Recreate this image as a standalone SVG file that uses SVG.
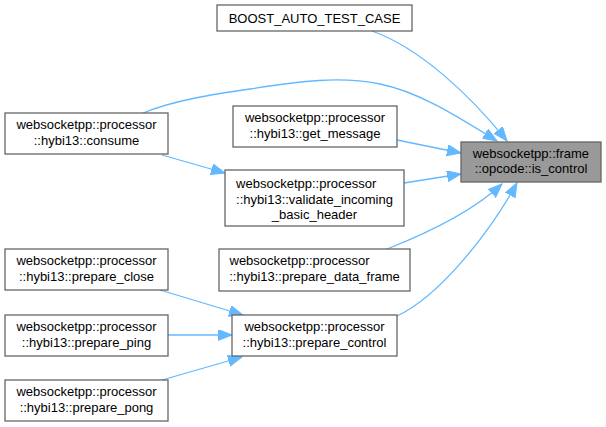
<svg xmlns="http://www.w3.org/2000/svg" width="606" height="427" viewBox="0 0 606 427">
<style>
.box{fill:#ffffff;stroke:#666666;stroke-width:1.3}
.root{fill:#999999;stroke:#666666;stroke-width:1.3}
text{font-family:"Liberation Sans",Arial,Helvetica,sans-serif;font-size:13px;fill:#000000}
.m{text-anchor:middle}
.s{text-anchor:start}
.e{fill:none;stroke:#63b8ff;stroke-width:1.3}
</style>
<defs>
<marker id="ah" markerUnits="userSpaceOnUse" markerWidth="15" markerHeight="12" refX="14" refY="5.5" orient="auto">
<path d="M0,0 L14,5.5 L0,11 z" fill="#63b8ff" stroke="#63b8ff" stroke-width="1"/>
</marker>
</defs>
<g id="edges">
<path class="e" marker-end="url(#ah)" d="M372,31 C420,48 470,95 507,141"/>
<path class="e" marker-end="url(#ah)" d="M143,113 C175,100 215,94 250,89 C300,81 340,76 380,84 C420,92 460,118 497,141"/>
<path class="e" marker-end="url(#ah)" d="M397,140 L461,153"/>
<path class="e" marker-end="url(#ah)" d="M404,183 L461,174"/>
<path class="e" marker-end="url(#ah)" d="M387,249 C420,236 470,214 502,184"/>
<path class="e" marker-end="url(#ah)" d="M397,316 C440,296 490,232 517,183"/>
<path class="e" marker-end="url(#ah)" d="M162,155 L225,173"/>
<path class="e" marker-end="url(#ah)" d="M160,290 L243,315"/>
<path class="e" marker-end="url(#ah)" d="M168,335 L232,335"/>
<path class="e" marker-end="url(#ah)" d="M162,380 L242,357"/>
</g>
<g id="node_root">
<rect class="root" x="461" y="142" width="140" height="40"/>
<text class="s" x="472.7" y="158">websocketpp::frame</text>
<text class="m" x="531" y="173">::opcode::is_control</text>
</g>
<g id="node_boost">
<rect class="box" x="217" y="5" width="195" height="26"/>
<text class="m" x="314.5" y="23">BOOST_AUTO_TEST_CASE</text>
</g>
<g id="node_consume">
<rect class="box" x="5" y="113" width="163" height="41"/>
<text class="s" x="16.4" y="129">websocketpp::processor</text>
<text class="m" x="86.5" y="145">::hybi13::consume</text>
</g>
<g id="node_get_message">
<rect class="box" x="233" y="106" width="164" height="41"/>
<text class="s" x="244.9" y="122">websocketpp::processor</text>
<text class="m" x="315" y="138">::hybi13::get_message</text>
</g>
<g id="node_validate">
<rect class="box" x="225" y="170" width="179" height="56"/>
<text class="s" x="236.1" y="188">websocketpp::processor</text>
<text class="s" x="236.1" y="204">::hybi13::validate_incoming</text>
<text class="m" x="314.5" y="219">_basic_header</text>
</g>
<g id="node_data_frame">
<rect class="box" x="219" y="249" width="191" height="42"/>
<text class="s" x="229.5" y="265">websocketpp::processor</text>
<text class="m" x="314.5" y="281">::hybi13::prepare_data_frame</text>
</g>
<g id="node_prepare_control">
<rect class="box" x="232" y="315" width="165" height="41"/>
<text class="s" x="244.4" y="331">websocketpp::processor</text>
<text class="m" x="314.5" y="347">::hybi13::prepare_control</text>
</g>
<g id="node_prepare_close">
<rect class="box" x="5" y="249" width="163" height="41"/>
<text class="s" x="16.4" y="265">websocketpp::processor</text>
<text class="m" x="86.5" y="281">::hybi13::prepare_close</text>
</g>
<g id="node_prepare_ping">
<rect class="box" x="5" y="315" width="163" height="41"/>
<text class="s" x="16.4" y="331">websocketpp::processor</text>
<text class="m" x="86.5" y="347">::hybi13::prepare_ping</text>
</g>
<g id="node_prepare_pong">
<rect class="box" x="5" y="380" width="163" height="41"/>
<text class="s" x="16.4" y="396">websocketpp::processor</text>
<text class="m" x="86.5" y="412">::hybi13::prepare_pong</text>
</g>
</svg>
